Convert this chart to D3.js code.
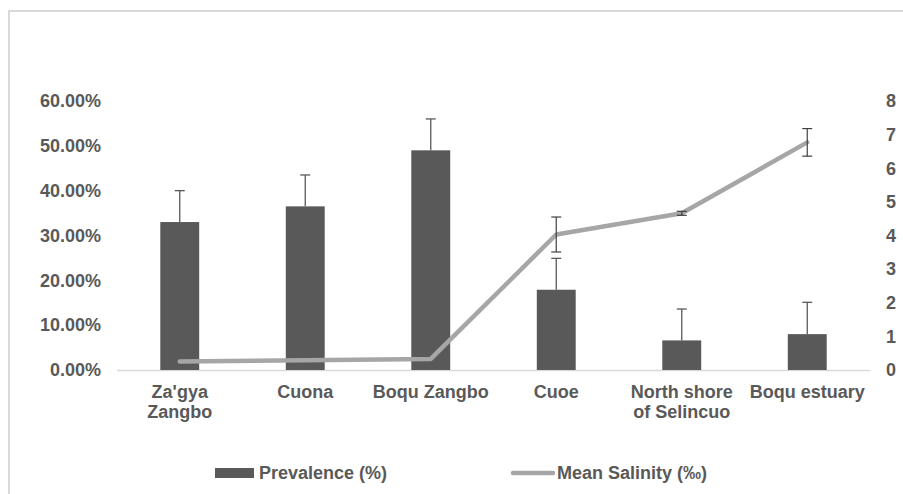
<!DOCTYPE html>
<html><head><meta charset="utf-8">
<script src="https://cdn.jsdelivr.net/npm/d3@7"></script>
<style>body{margin:0;background:#fff}svg{display:block}</style>
</head><body>
<script>
const categories = [["Za'gya","Zangbo"],["Cuona"],["Boqu Zangbo"],["Cuoe"],["North shore","of Selincuo"],["Boqu estuary"]];
const prevalence = [0.330, 0.365, 0.490, 0.179, 0.066, 0.080];
const prevalenceErr = [0.070, 0.070, 0.070, 0.070, 0.070, 0.071];
const salinity = [0.25, 0.29, 0.33, 4.03, 4.66, 6.77];
const salinityErr = [0, 0, 0, 0.52, 0.06, 0.41];
const leftTicks = [0, 0.1, 0.2, 0.3, 0.4, 0.5, 0.6];
const rightTicks = [0, 1, 2, 3, 4, 5, 6, 7, 8];
const legendLabels = ["Prevalence (%)", "Mean Salinity (\u2030)"];

const W = 903, H = 494;
const svg = d3.select("body").append("svg").attr("width", W).attr("height", H);
svg.append("rect").attr("x", 9).attr("y", 11).attr("width", W).attr("height", H)
  .attr("fill", "none").attr("stroke", "#d9d9d9").attr("stroke-width", 2);

const x0 = 117, x1 = 870, yTop = 101, yBot = 370;
const x = d3.scaleBand().domain(d3.range(categories.length)).range([x0, x1]).paddingInner(0.69).paddingOuter(0.345);
const yL = d3.scaleLinear().domain([0, 0.6]).range([yBot, yTop]);
const yR = d3.scaleLinear().domain([0, 8]).range([yBot, yTop]);
const cx = i => x(i) + x.bandwidth() / 2;

const txtFont = "'Liberation Sans', Arial, sans-serif";
const grey = "#595959";
const FS = 18;

// left axis
const axL = d3.axisLeft(yL).tickValues(leftTicks).tickFormat(d3.format(".2%")).tickSize(0).tickPadding(0);
const gL = svg.append("g").attr("transform", `translate(101,0)`).call(axL);
gL.select(".domain").remove();
gL.selectAll("text").attr("fill", grey).attr("font-size", FS).attr("font-weight", "bold").attr("font-family", txtFont);

// right axis
const axR = d3.axisRight(yR).tickValues(rightTicks).tickSize(0).tickPadding(0);
const gR = svg.append("g").attr("transform", `translate(886,0)`).call(axR);
gR.select(".domain").remove();
gR.selectAll("text").attr("fill", grey).attr("font-size", FS).attr("font-weight", "bold").attr("font-family", txtFont);

// baseline
svg.append("line").attr("x1", x0).attr("x2", x1).attr("y1", yBot + 0.5).attr("y2", yBot + 0.5)
  .attr("stroke", "#d9d9d9").attr("stroke-width", 1.5);

// bars
svg.selectAll("rect.bar").data(prevalence).join("rect").attr("class", "bar")
  .attr("x", (d, i) => x(i)).attr("width", x.bandwidth())
  .attr("y", d => yL(d)).attr("height", d => yBot - yL(d)).attr("fill", grey);

// bar error bars (upper only)
const eb = svg.append("g").attr("stroke", "#595959").attr("stroke-width", 1.3);
prevalence.forEach((d, i) => {
  const c = cx(i), top = yL(d + prevalenceErr[i]);
  eb.append("line").attr("x1", c).attr("x2", c).attr("y1", yL(d)).attr("y2", top);
  eb.append("line").attr("x1", c - 5).attr("x2", c + 5).attr("y1", top).attr("y2", top);
});

// salinity line
const line = d3.line().x((d, i) => cx(i)).y(d => yR(d));
svg.append("path").datum(salinity).attr("d", line).attr("fill", "none")
  .attr("stroke", "#a6a6a6").attr("stroke-width", 4.5).attr("stroke-linejoin", "round").attr("stroke-linecap", "round");

// salinity error bars
const es = svg.append("g").attr("stroke", "#404040").attr("stroke-width", 1.2);
salinity.forEach((d, i) => {
  if (!salinityErr[i]) return;
  const c = cx(i), t = yR(d + salinityErr[i]), b = yR(d - salinityErr[i]);
  es.append("line").attr("x1", c).attr("x2", c).attr("y1", t).attr("y2", b);
  es.append("line").attr("x1", c - 5).attr("x2", c + 5).attr("y1", t).attr("y2", t);
  es.append("line").attr("x1", c - 5).attr("x2", c + 5).attr("y1", b).attr("y2", b);
});

// category labels
categories.forEach((lines, i) => {
  const t = svg.append("text").attr("x", cx(i)).attr("y", 398).attr("text-anchor", "middle")
    .attr("fill", grey).attr("font-size", FS).attr("font-weight", "bold").attr("font-family", txtFont);
  lines.forEach((s, k) => t.append("tspan").attr("x", cx(i)).attr("dy", k ? 20 : 0).text(s));
});

// legend
svg.append("rect").attr("x", 215).attr("y", 468).attr("width", 39).attr("height", 10).attr("fill", grey);
svg.append("text").attr("x", 259).attr("y", 479).text(legendLabels[0])
  .attr("fill", grey).attr("font-size", FS).attr("font-weight", "bold").attr("font-family", txtFont);
svg.append("line").attr("x1", 513).attr("x2", 553).attr("y1", 473).attr("y2", 473)
  .attr("stroke", "#a6a6a6").attr("stroke-width", 4.5).attr("stroke-linecap", "round");
svg.append("text").attr("x", 557).attr("y", 479).text(legendLabels[1])
  .attr("fill", grey).attr("font-size", FS).attr("font-weight", "bold").attr("font-family", txtFont);
</script>
</body></html>
